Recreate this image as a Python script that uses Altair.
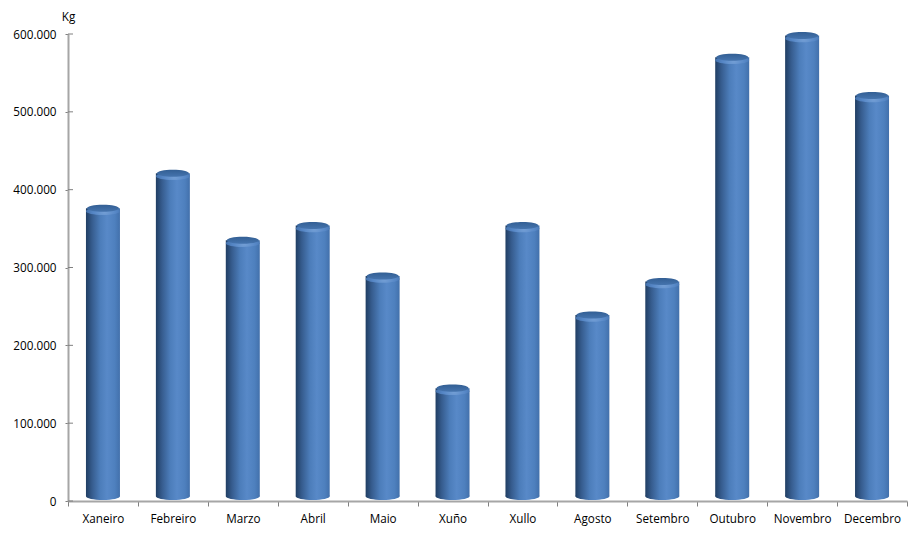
import altair as alt
import pandas as pd

months = ["Xaneiro", "Febreiro", "Marzo", "Abril", "Maio", "Xuño", "Xullo",
          "Agosto", "Setembro", "Outubro", "Novembro", "Decembro"]
values = [376000, 421000, 335000, 354000, 289000, 145000, 354000,
          239000, 282000, 570000, 598000, 521000]
y_ticks = [0, 100000, 200000, 300000, 400000, 500000, 600000]
BASE = 6000
FONT = "Open Sans"
ELLIPSE = "M-1,0A1,0.22,0,1,1,1,0A1,0.22,0,1,1,-1,0Z"
BAR_W = 34
AXIS = "#a6a6a6"
TEXT = "#000000"

df = pd.DataFrame({"month": months, "value": values, "base": [BASE] * len(months)})
ticks_df = pd.DataFrame({"t": y_ticks})

x = alt.X("month:N", sort=months, title=None,
          scale=alt.Scale(paddingInner=0, paddingOuter=0),
          axis=alt.Axis(labelAngle=0, labelFont=FONT, labelFontSize=11.7, labelColor=TEXT,
                        labelPadding=7, tickBand="extent", tickSize=5, tickColor="#808080",
                        domainColor=AXIS, domainWidth=2, grid=False))
y_scale = alt.Scale(domain=[0, 600000], nice=False)
y_axis = alt.Axis(values=y_ticks, labelExpr="replace(format(datum.value, ','), ',', '.')",
                  labelFont=FONT, labelFontSize=11.7, labelColor=TEXT, labelPadding=9,
                  tickSize=3, tickColor="#808080", domainColor=AXIS, domainWidth=2,
                  grid=False, title="Kg", titleAngle=0, titleFont=FONT, titleFontSize=11.7,
                  titleFontWeight="normal", titleColor=TEXT, titleX=0, titleY=-12,
                  titleAlign="center")
y = alt.Y("value:Q", scale=y_scale, axis=y_axis)

body_grad = alt.LinearGradient(gradient="linear", x1=0, x2=1, y1=0, y2=0, stops=[
    alt.GradientStop(color="#203e63", offset=0),
    alt.GradientStop(color="#365c8e", offset=0.18),
    alt.GradientStop(color="#4c7dba", offset=0.42),
    alt.GradientStop(color="#5889c8", offset=0.62),
    alt.GradientStop(color="#4e80be", offset=0.85),
    alt.GradientStop(color="#4270ab", offset=1),
])
cap_grad = alt.LinearGradient(gradient="linear", x1=0, x2=0, y1=0, y2=1, stops=[
    alt.GradientStop(color="#335f94", offset=0),
    alt.GradientStop(color="#4574ae", offset=1),
])
rim_grad = alt.RadialGradient(gradient="radial", x1=0.55, y1=0.5, r1=0, x2=0.55, y2=0.5, r2=0.6, stops=[
    alt.GradientStop(color="#75a0d6", offset=0),
    alt.GradientStop(color="#5687c6", offset=0.55),
    alt.GradientStop(color="#3f6ca6", offset=1),
])

bars = alt.Chart(df).mark_bar(fill=body_grad, size=BAR_W).encode(x=x, y=y, y2="base:Q")
bottoms = alt.Chart(df).mark_point(shape=ELLIPSE, size=BAR_W**2, fill=body_grad, filled=True,
                                   opacity=1).encode(x=x, y=alt.Y("base:Q", scale=y_scale, axis=y_axis))
rims = alt.Chart(df).mark_point(shape=ELLIPSE, size=BAR_W**2, fill=rim_grad, filled=True,
                                opacity=1, yOffset=3).encode(x=x, y=y)
caps = alt.Chart(df).mark_point(shape=ELLIPSE, size=(BAR_W - 2)**2, fill=cap_grad, filled=True,
                                opacity=1).encode(x=x, y=y)
inner_ticks = alt.Chart(ticks_df).mark_rule(color="#808080").encode(
    y=alt.Y("t:Q", scale=y_scale, axis=y_axis), x=alt.value(0), x2=alt.value(5))

chart = alt.layer(bottoms, bars, rims, caps, inner_ticks).properties(
    width=839, height=467, padding={"left": 60, "top": 26, "right": 7, "bottom": 29},
    autosize=alt.AutoSizeParams(type="none"),
    background="white",
).configure_view(stroke=None)

chart.save("out.html", embed_options={"renderer": "svg", "actions": False})
